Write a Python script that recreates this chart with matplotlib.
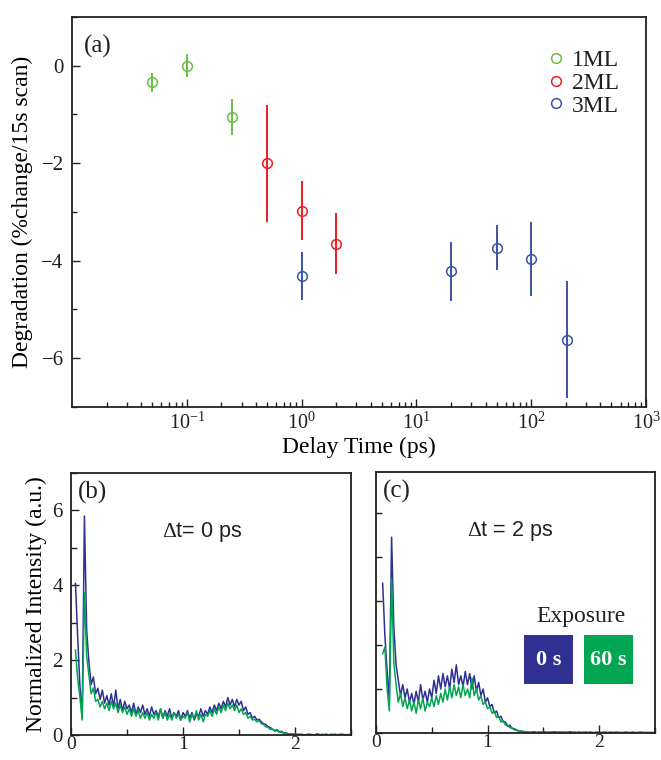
import numpy as np
import matplotlib
matplotlib.use("Agg")
import matplotlib.pyplot as plt
from matplotlib.lines import Line2D
from matplotlib.patches import Rectangle
from matplotlib.ticker import LogLocator, MultipleLocator, NullFormatter

# --- DATA: degradation vs delay time ---
delay_1ml = [0.05, 0.1, 0.25]
degr_1ml = [-0.34, 0.0, -1.05]
err_1ml = [0.2, 0.23, 0.37]

delay_2ml = [0.5, 1.0, 2.0]
degr_2ml = [-2.0, -2.97, -3.65]
err_2ml = [1.2, 0.6, 0.63]

delay_3ml = [1.0, 20.0, 50.0, 100.0, 205.0]
degr_3ml = [-4.32, -4.22, -3.73, -3.96, -5.62]
err_3ml = [0.49, 0.6, 0.47, 0.76, 1.2]

series_labels = ["1ML", "2ML", "3ML"]
xtick_vals = [0.1, 1, 10, 100, 1000]
xtick_labels = ["10$^{-1}$", "10$^{0}$", "10$^{1}$", "10$^{2}$", "10$^{3}$"]

# --- DATA: spectra (energy grid, sampled every 0.02) ---
energy_b = np.round(np.arange(0.04, 2.501, 0.02), 2)
spec_b_0s = [
    4.05, 2.6, 1.3, 0.45, 5.85, 2.8, 1.95, 1.35, 1.55, 1.1,
    1.25, 0.95, 1.2, 0.85, 1.05, 0.8, 1.1, 0.75, 1.2, 0.7,
    0.95, 0.65, 0.9, 0.7, 0.8, 0.6, 0.85, 0.55, 0.75, 0.6,
    0.8, 0.55, 0.7, 0.5, 0.75, 0.55, 0.65, 0.5, 0.7, 0.45,
    0.65, 0.5, 0.7, 0.45, 0.6, 0.5, 0.65, 0.4, 0.6, 0.5,
    0.65, 0.45, 0.6, 0.4, 0.55, 0.5, 0.7, 0.5, 0.65, 0.55,
    0.75, 0.6, 0.8, 0.65, 0.85, 0.7, 0.9, 0.75, 1.0, 0.8,
    0.95, 0.75, 0.95, 0.8, 0.9, 0.65, 0.75, 0.55, 0.6, 0.45,
    0.5, 0.4, 0.42, 0.35, 0.3, 0.28, 0.22, 0.2, 0.15, 0.12,
    0.14, 0.08, 0.1, 0.05, 0.06, 0.03, 0.02, 0.03, 0.01, 0.02,
    0.01, 0.02, 0.0, 0.01, 0.02, 0.01, 0.0, 0.01, 0.03, 0.01,
    0.0, 0.01, 0.02, 0.0, 0.01, 0.01, 0.02, 0.0, 0.01, 0.02,
    0.01, 0.0, 0.01, 0.01,
]
spec_b_60s = [
    2.27, 1.5, 1.0, 0.4, 3.8, 2.1, 1.6, 1.1, 1.25, 0.9,
    0.95, 0.75, 0.9, 0.7, 0.85, 0.65, 0.9, 0.7, 0.85, 0.6,
    0.8, 0.6, 0.75, 0.55, 0.7, 0.5, 0.7, 0.5, 0.65, 0.45,
    0.6, 0.45, 0.6, 0.4, 0.55, 0.45, 0.6, 0.4, 0.7, 0.45,
    0.6, 0.4, 0.55, 0.4, 0.6, 0.45, 0.55, 0.4, 0.5, 0.45,
    0.6, 0.35, 0.55, 0.45, 0.65, 0.4, 0.55, 0.35, 0.55, 0.5,
    0.65, 0.5, 0.7, 0.55, 0.75, 0.6, 0.8, 0.65, 0.85, 0.7,
    0.8, 0.65, 0.8, 0.6, 0.7, 0.55, 0.6, 0.45, 0.5, 0.4,
    0.42, 0.35, 0.38, 0.3, 0.28, 0.22, 0.2, 0.15, 0.16, 0.1,
    0.12, 0.07, 0.08, 0.04, 0.05, 0.02, 0.03, 0.01, 0.02, 0.01,
    0.02, 0.01, 0.0, 0.01, 0.01, 0.02, 0.0, 0.01, 0.01, 0.0,
    0.02, 0.01, 0.01, 0.0, 0.02, 0.01, 0.0, 0.01, 0.02, 0.01,
    0.0, 0.01, 0.01, 0.0,
]

energy_c = np.round(np.arange(0.06, 2.501, 0.02), 2)
spec_c_0s = [
    3.4, 2.2, 1.4, 0.75, 4.45, 2.4, 1.55, 1.2, 0.85, 1.1,
    0.8, 1.0, 0.7, 0.9, 0.65, 0.95, 0.7, 1.1, 0.75, 0.95,
    0.7, 1.0, 0.8, 1.2, 0.9, 1.3, 1.0, 1.35, 1.05, 1.3,
    1.0, 1.45, 1.15, 1.55, 1.1, 1.3, 1.05, 1.4, 1.1, 1.35,
    1.0, 1.3, 0.95, 1.15, 0.85, 1.0, 0.7, 0.8, 0.6, 0.65,
    0.45, 0.5, 0.35, 0.38, 0.25, 0.25, 0.15, 0.18, 0.1, 0.1,
    0.06, 0.05, 0.03, 0.04, 0.02, 0.03, 0.01, 0.02, 0.03, 0.01,
    0.02, 0.01, 0.03, 0.02, 0.01, 0.02, 0.01, 0.03, 0.01, 0.02,
    0.02, 0.01, 0.02, 0.01, 0.03, 0.01, 0.02, 0.01, 0.02, 0.01,
    0.01, 0.02, 0.01, 0.02, 0.01, 0.01, 0.02, 0.01, 0.01, 0.02,
    0.01, 0.01, 0.02, 0.01, 0.01, 0.02, 0.01, 0.01, 0.01, 0.02,
    0.01, 0.01, 0.02, 0.01, 0.01, 0.01, 0.02, 0.01, 0.01, 0.01,
    0.01, 0.01, 0.01,
]
spec_c_60s = [
    1.8, 1.95, 1.0, 0.5, 3.5, 1.6, 1.1, 0.7, 0.9, 0.6,
    0.8, 0.55, 0.75, 0.5, 0.7, 0.45, 0.75, 0.55, 0.8, 0.5,
    0.7, 0.6, 0.8, 0.6, 0.85, 0.65, 0.9, 0.7, 1.0, 0.75,
    1.05, 0.8, 1.1, 0.85, 1.05, 0.8, 1.1, 0.85, 1.0, 0.8,
    1.25, 0.85, 1.0, 0.75, 0.85, 0.65, 0.7, 0.55, 0.6, 0.45,
    0.5, 0.35, 0.38, 0.25, 0.28, 0.18, 0.18, 0.12, 0.12, 0.07,
    0.08, 0.04, 0.05, 0.02, 0.03, 0.02, 0.01, 0.03, 0.02, 0.01,
    0.03, 0.02, 0.01, 0.02, 0.02, 0.01, 0.03, 0.01, 0.02, 0.02,
    0.01, 0.02, 0.01, 0.02, 0.01, 0.02, 0.01, 0.01, 0.02, 0.01,
    0.02, 0.01, 0.01, 0.02, 0.01, 0.01, 0.02, 0.01, 0.01, 0.01,
    0.02, 0.01, 0.01, 0.01, 0.02, 0.01, 0.01, 0.01, 0.01, 0.02,
    0.01, 0.01, 0.01, 0.01, 0.01, 0.02, 0.01, 0.01, 0.01, 0.01,
    0.01, 0.01, 0.01,
]
exposure_labels = ["0 s", "60 s"]

# --- STYLE ---
INK = "#231F20"
C_1ML = "#6ABD45"
C_2ML = "#ED1C24"
C_3ML = "#3954A4"
C_0S = "#2E3192"
C_60S = "#00A651"
SERIF = "Liberation Serif"

plt.rcParams["font.family"] = SERIF
plt.rcParams["mathtext.fontset"] = "custom"
plt.rcParams["mathtext.rm"] = SERIF
plt.rcParams["mathtext.it"] = SERIF + ":italic"
plt.rcParams["text.color"] = INK
plt.rcParams["axes.edgecolor"] = INK
plt.rcParams["xtick.color"] = INK
plt.rcParams["ytick.color"] = INK


def style_axes(ax, xpad=6):
    for s in ax.spines.values():
        s.set_linewidth(1.3)
    ax.tick_params(which="both", direction="in", top=False, right=False,
                   labelsize=15, width=1.0, pad=6)
    ax.tick_params(axis="x", pad=xpad)
    ax.tick_params(which="major", length=6)
    ax.tick_params(which="minor", length=3.5)


fig = plt.figure(figsize=(6.61, 7.6), dpi=100)

# ---- (a) degradation ----
ax = fig.add_axes([0.1089, 0.4645, 0.8685, 0.5132])
ekw = dict(fmt="o", ms=7, mfc="none", mew=1.1, elinewidth=1.4, capsize=0)
ax.errorbar(delay_1ml, degr_1ml, yerr=err_1ml, color=C_1ML, **ekw)
ax.errorbar(delay_2ml, degr_2ml, yerr=err_2ml, color=C_2ML, **ekw)
ax.errorbar(delay_3ml, degr_3ml, yerr=err_3ml, color=C_3ML, **ekw)
ax.set_xscale("log")
ax.set_xlim(0.01, 1000)
ax.set_ylim(-7, 1)
ax.set_xticks(xtick_vals)
ax.set_xticklabels(xtick_labels)
ax.xaxis.set_minor_locator(LogLocator(base=10, subs=np.arange(2, 10)))
ax.xaxis.set_minor_formatter(NullFormatter())
ax.set_yticks([0, -2, -4, -6])
ax.yaxis.set_minor_locator(MultipleLocator(1))
style_axes(ax, xpad=4)
ax.tick_params(axis="x", labelsize=14.5)
ax.set_xlabel("Delay Time (ps)", fontsize=17, labelpad=2)
ax.set_ylabel("Degradation (%change/15s scan)", fontsize=17, labelpad=6)
ax.text(0.02, 0.955, "(a)", transform=ax.transAxes, fontsize=18, va="top")

handles = [Line2D([], [], ls="none", marker="o", ms=7, mfc="none", mew=1.1, mec=c)
           for c in (C_1ML, C_2ML, C_3ML)]
ax.legend(handles, series_labels, loc="upper right", bbox_to_anchor=(0.97, 0.94),
          frameon=False, fontsize=17, handletextpad=0.1, labelspacing=0.05,
          handlelength=1.2, borderaxespad=0)

# ---- (b) spectrum at 0 ps ----
axb = fig.add_axes([0.1074, 0.0329, 0.4236, 0.3447])
axb.plot(energy_b, spec_b_0s, color=C_0S, lw=1.1)
axb.plot(energy_b, spec_b_60s, color=C_60S, lw=1.1)
axb.set_xlim(0, 2.5)
axb.set_ylim(0, 7)
axb.set_xticks([0, 1, 2])
axb.xaxis.set_minor_locator(MultipleLocator(0.5))
axb.set_yticks([0, 2, 4, 6])
axb.yaxis.set_minor_locator(MultipleLocator(1))
style_axes(axb, xpad=1)
axb.tick_params(axis="x", labelsize=14)
axb.tick_params(which="minor", length=4)
axb.set_ylabel("Normalized Intensity (a.u.)", fontsize=17, labelpad=4)
axb.text(0.025, 0.97, "(b)", transform=axb.transAxes, fontsize=18, va="top")
axb.text(0.47, 0.775, "$\\Delta$t= 0 ps", transform=axb.transAxes, fontsize=15.5,
         ha="center", va="center", family="Liberation Sans")

# ---- (c) spectrum at 2 ps ----
axc = fig.add_axes([0.5688, 0.0355, 0.4221, 0.3434])
axc.plot(energy_c, spec_c_0s, color=C_0S, lw=1.1)
axc.plot(energy_c, spec_c_60s, color=C_60S, lw=1.1)
axc.set_xlim(0, 2.5)
axc.set_ylim(0, 5.93)
axc.set_xticks([0, 1, 2])
axc.xaxis.set_minor_locator(MultipleLocator(0.5))
axc.yaxis.set_major_locator(MultipleLocator(1))
axc.set_yticklabels([])
style_axes(axc, xpad=1)
axc.tick_params(axis="x", labelsize=14)
axc.tick_params(axis="y", which="major", length=4)
axc.tick_params(axis="x", which="minor", length=4)
axc.text(0.025, 0.97, "(c)", transform=axc.transAxes, fontsize=18, va="top")
axc.text(0.48, 0.775, "$\\Delta$t = 2 ps", transform=axc.transAxes, fontsize=15.5,
         ha="center", va="center", family="Liberation Sans")

# exposure key
axc.text(0.735, 0.445, "Exposure", transform=axc.transAxes, fontsize=17,
         ha="center", va="center")
for x0, c, lab in zip((0.53, 0.745), (C_0S, C_60S), exposure_labels):
    axc.add_patch(Rectangle((x0, 0.188), 0.175, 0.187, transform=axc.transAxes,
                            facecolor=c, edgecolor="none", zorder=5))
    axc.text(x0 + 0.0875, 0.28, lab, transform=axc.transAxes, fontsize=16,
             fontweight="bold", color="white", ha="center", va="center", zorder=6)

fig.savefig("out.png", dpi=100)
